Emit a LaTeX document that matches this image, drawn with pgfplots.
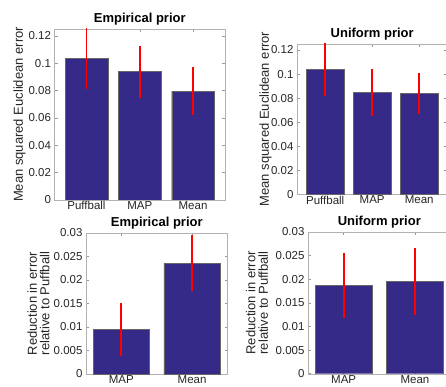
\documentclass[border=0pt]{standalone}
\usepackage{fontspec}
\setmainfont{Liberation Sans}
\usepackage{pgfplots}
\pgfplotsset{compat=1.18}
\definecolor{barblue}{RGB}{53,42,135}
\definecolor{errred}{RGB}{255,0,0}
\pgfplotsset{
  mystyle/.style={
    scale only axis,
    axis line style={black!30},
    tick style={black!40, line width=0.5pt},
    major tick length=3pt,
    tick align=inside,
    xtick pos=both, ytick pos=both,
    ticklabel style={font=\fontsize{11.5}{13}\selectfont, text=black!85},
    xticklabel style={yshift=2pt},
    /pgf/number format/assume math mode=true,
    scaled y ticks=false,
    yticklabel style={/pgf/number format/fixed, /pgf/number format/precision=3},
    every axis title shift=0pt,
    title style={font=\fontsize{13}{15}\selectfont\bfseries, at={(0.5,1)}, anchor=base, yshift=6.5pt},
    ylabel style={font=\fontsize{13}{12.7}\selectfont, align=center, anchor=center, text=black!85},
    ymin=0,
    xtick=data,
  },
  bars/.style={ybar, bar width=0.8, fill=barblue, draw=black!60, line width=0.4pt},
  err/.style={draw=errred, line width=1.8pt, line cap=butt, mark=none, forget plot},
}
\begin{document}
\begin{tikzpicture}
\path[use as bounding box] (0,0) rectangle (446pt,-387pt);
\clip (0,0) rectangle (446pt,-387pt);
% Panel 1
\begin{axis}[mystyle, at={(54.5pt,-200pt)}, anchor=south west, width=170.5pt, height=171pt,
  xmin=0.4, xmax=3.6, ymax=0.125,
  ytick={0,0.02,0.04,0.06,0.08,0.1,0.12},
  xticklabels={Puffball,MAP,Mean},
  title={Empirical prior},
  ylabel={Mean squared Euclidean error},
  ylabel style={at={(axis description cs:-0.205,0.5)}}]
\addplot[bars] coordinates {(1,0.1034) (2,0.0938) (3,0.0796)};
\addplot[err] coordinates {(1,0.0812) (1,0.1256)};
\addplot[err] coordinates {(2,0.0748) (2,0.1128)};
\addplot[err] coordinates {(3,0.0621) (3,0.0971)};
\end{axis}
% Panel 2
\begin{axis}[mystyle, at={(297pt,-194.3pt)}, anchor=south west, width=150.4pt, height=150.3pt,
  xmin=0.4, xmax=3.6, ymax=0.125,
  ytick={0,0.02,0.04,0.06,0.08,0.1,0.12},
  xticklabels={Puffball,MAP,Mean},
  title={Uniform prior},
  ylabel={Mean squared Euclidean error},
  ylabel style={at={(axis description cs:-0.209,0.5)}}]
\addplot[bars] coordinates {(1,0.1039) (2,0.0848) (3,0.0838)};
\addplot[err] coordinates {(1,0.0816) (1,0.1262)};
\addplot[err] coordinates {(2,0.0650) (2,0.1046)};
\addplot[err] coordinates {(3,0.0666) (3,0.1010)};
\end{axis}
% Panel 3
\begin{axis}[mystyle, at={(86pt,-374pt)}, anchor=south west, width=141.5pt, height=141pt,
  xmin=0.5, xmax=2.5, ymax=0.03,
  ytick={0,0.005,0.01,0.015,0.02,0.025,0.03},
  xticklabels={MAP,Mean},
  title={Empirical prior},
  ylabel={Reduction in error\\relative to Puffball},
  ylabel style={at={(axis description cs:-0.336,0.5)}}]
\addplot[bars] coordinates {(1,0.0095) (2,0.0236)};
\addplot[err] coordinates {(1,0.0038) (1,0.0152)};
\addplot[err] coordinates {(2,0.0176) (2,0.0296)};
\end{axis}
% Panel 4
\begin{axis}[mystyle, at={(308pt,-373.7pt)}, anchor=south west, width=142.6pt, height=141.7pt,
  xmin=0.5, xmax=2.5, ymax=0.03,
  ytick={0,0.005,0.01,0.015,0.02,0.025,0.03},
  xticklabels={MAP,Mean},
  title={Uniform prior},
  ylabel={Reduction in error\\relative to Puffball},
  ylabel style={at={(axis description cs:-0.358,0.5)}}]
\addplot[bars] coordinates {(1,0.0187) (2,0.0195)};
\addplot[err] coordinates {(1,0.0118) (1,0.0256)};
\addplot[err] coordinates {(2,0.0124) (2,0.0266)};
\end{axis}
\end{tikzpicture}
\end{document}
